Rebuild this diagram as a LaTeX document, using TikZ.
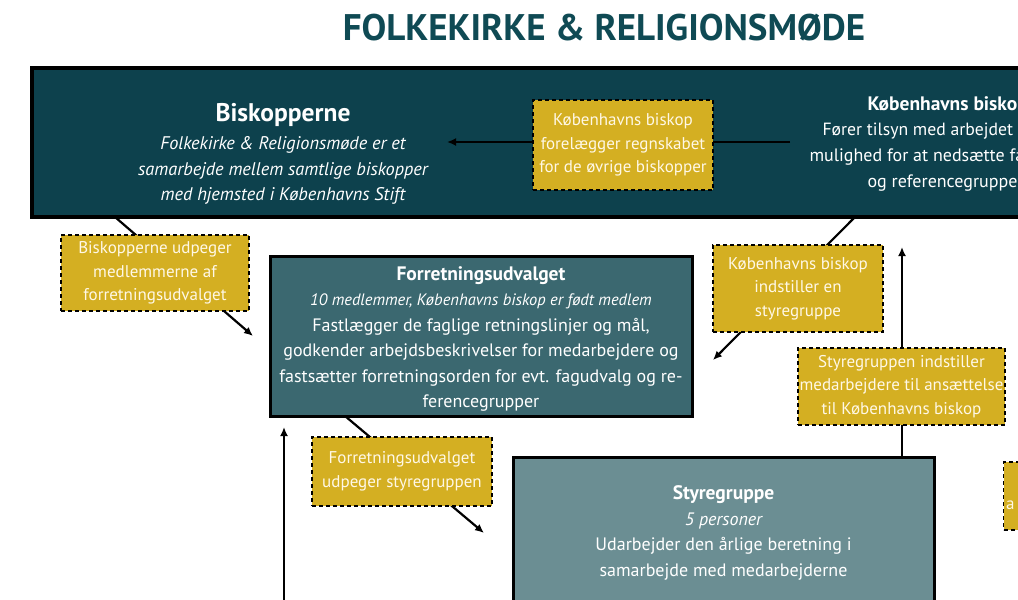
\documentclass[tikz,border=0pt]{standalone}
\usepackage{fontspec}
\setmainfont{PT Sans}
\usetikzlibrary{arrows.meta}

\definecolor{titleteal}{HTML}{0F4A54}
\definecolor{darkteal}{HTML}{0D414D}
\definecolor{midteal}{HTML}{3B6870}
\definecolor{greyteal}{HTML}{6B8E93}
\definecolor{noteyellow}{HTML}{D4AF22}
\definecolor{notetext}{HTML}{FFF8E6}

\tikzset{
  orgbox/.style={draw=black, line width=3pt, inner sep=0pt},
  orgtext/.style={align=center, text=white, font=\fontsize{18}{25.5}\selectfont},
  notebox/.style={draw=black, dash pattern=on 4pt off 3pt, line width=1.3pt, fill=noteyellow, text=notetext,
    align=center, inner sep=0pt, font=\fontsize{17}{23.5}\selectfont},
  flow/.style={line width=2.2pt, -{Latex[length=9pt,width=8pt]}},
}

\begin{document}
\begin{tikzpicture}[x=1pt,y=-1pt]
    \useasboundingbox (0,0) rectangle (1018,600);
    \clip (0,0) rectangle (1018,600);

    \node[font=\fontsize{37}{42}\selectfont\bfseries, text=titleteal] (title) at (604,28) {FOLKEKIRKE \& RELIGIONSMØDE};

    % the three bodies
    \node[orgbox, line width=4pt, fill=darkteal, minimum width=1028pt, minimum height=149pt] (bisk) at (546,142.5) {};
    \node[orgbox, fill=midteal, minimum width=422pt, minimum height=160pt] (fu) at (481,336) {};
    \node[orgbox, fill=greyteal, minimum width=421pt, minimum height=183pt] (styre) at (723.5,548.5) {};

    \node[orgtext, font=\fontsize{18.3}{25.5}\selectfont\itshape] (bisktxt) at (283,154) {{\upshape\bfseries\fontsize{25.5}{28}\selectfont Biskopperne}\\[3pt]
        Folkekirke \& Religionsmøde er et\\
        samarbejde mellem samtlige biskopper\\
        med hjemsted i Københavns Stift};

    \node[anchor=west, text=white, font=\fontsize{19.5}{22}\selectfont\bfseries] (kbhhead) at (864,106) {Københavns biskop};
    \node[anchor=west, text=white, font=\fontsize{17.7}{22}\selectfont] (kbhline1) at (819,131) {Fører tilsyn med arbejdet};
    \node[anchor=west, text=white, font=\fontsize{18}{22}\selectfont] (kbhline2) at (806,157) {mulighed for at nedsætte fa};
    \node[anchor=west, text=white, font=\fontsize{18}{22}\selectfont] (kbhline3) at (864,183) {og referencegruppe};

    \node[orgtext] (futxt) at (481,339) {{\bfseries\fontsize{19.5}{22}\selectfont Forretningsudvalget}\\
        {\itshape\fontsize{16.5}{18}\selectfont 10 medlemmer, Københavns biskop er født medlem}\\
        Fastlægger de faglige retningslinjer og mål,\\
        godkender arbejdsbeskrivelser for medarbejdere og\\
        fastsætter forretningsorden for evt. fagudvalg og re-\\
        ferencegrupper};

    \node[orgtext] (styretxt) at (723.5,533) {{\bfseries\fontsize{19.5}{22}\selectfont Styregruppe}\\
        {\itshape 5 personer}\\
        Udarbejder den årlige beretning i\\
        samarbejde med medarbejderne};

    % connectors
    \coordinate (kbhsrc) at (790,142);
    \coordinate (kbhtip) at (447,142);
    \coordinate (udpsrc) at (115,217);
    \coordinate (udptip) at (253,336);
    \coordinate (indsrc) at (855,217);
    \coordinate (indtip) at (713,360);
    \coordinate (styretip) at (902,247);
    \coordinate (fusrc) at (345,416);
    \coordinate (futip) at (484,533);
    \coordinate (upsrc) at (284,620);
    \coordinate (uptip) at (284,427);

    \draw[flow] (kbhsrc) -- (kbhtip);
    \draw[flow] (udpsrc) -- (udptip);
    \draw[flow] (indsrc) -- (indtip);
    \draw[flow] (styre.north -| styretip) -- (styretip);
    \draw[flow] (fusrc) -- (futip);
    \draw[flow] (upsrc) -- (uptip);

    % notes on the connectors
    \node[notebox, minimum width=180pt, minimum height=90pt] (regnskab) at (623,145) {Københavns biskop\\forelægger regnskabet\\for de øvrige biskopper};
    \node[notebox, minimum width=188pt, minimum height=76pt] (udpeger) at (155,273) {Biskopperne udpeger\\medlemmerne af\\forretningsudvalget};
    \node[notebox, minimum width=170pt, minimum height=87pt] (indstiller) at (798,288.5) {Københavns biskop\\indstiller en\\styregruppe};
    \node[notebox, minimum width=207pt, minimum height=77pt] (ansaet) at (901.5,386.5) {Styregruppen indstiller\\medarbejdere til ansættelse\\til Københavns biskop};
    \node[notebox, minimum width=180pt, minimum height=69pt] (fuudp) at (402,471.5) {Forretningsudvalget\\udpeger styregruppen};
    \node[notebox, minimum width=100pt, minimum height=68pt, anchor=west] (edge) at (1003,496) {};
    \node[anchor=west, inner sep=0pt, text=notetext, font=\fontsize{17}{23.5}\selectfont] (edgetxt) at (1006,505) {a};
\end{tikzpicture}
\end{document}
